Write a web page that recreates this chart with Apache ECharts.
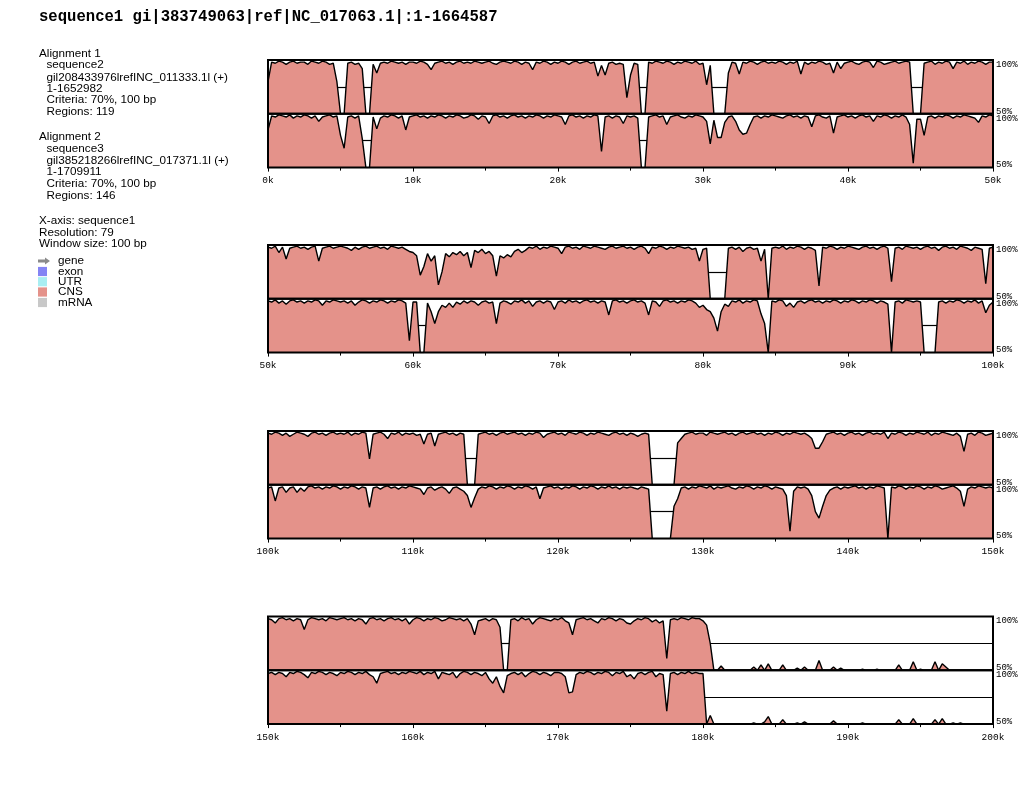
<!DOCTYPE html>
<html><head><meta charset="utf-8">
<script src="https://cdn.jsdelivr.net/npm/echarts@6/dist/echarts.min.js"></script>
<style>html,body{margin:0;padding:0;background:#fff}#c{width:1024px;height:793px}</style>
</head><body><div id="c"></div>
<script>
// ---- data (percent identity, sampled every 0.25 kb of sequence1) ----
const STEP_K = 0.25;
const seq2 = [
80,98,97,99,98,96,98,99,97,98,98,96,99,98,97,99,98,96,97,80,
50,50,97,98,96,97,92,50,50,96,88,97,98,97,99,98,97,98,96,98,
98,97,99,98,96,91,97,98,99,97,98,96,98,99,97,98,97,99,98,97,
98,99,97,96,98,99,98,97,99,98,96,98,97,91,98,97,99,98,96,98,
97,99,98,96,98,99,97,98,99,97,98,85,95,86,97,98,96,97,96,65,
86,97,96,50,50,98,97,99,98,97,99,98,96,98,97,99,98,97,99,96,
97,77,95,50,50,50,50,88,98,97,87,98,97,99,98,96,98,99,97,98,
97,99,98,96,98,97,99,87,98,96,98,97,99,98,96,97,88,98,92,97,
98,99,97,96,98,99,98,93,99,98,96,97,98,99,97,98,99,98,50,50,
50,97,98,99,96,98,97,99,98,92,98,97,99,96,98,97,99,98,96,98,
98,97,99,93,98,87,97,98,99,97,98,96,98,99,85,97,98,99,97,98,
99,98,97,95,98,96,98,99,97,98,99,97,98,96,99,98,97,98,96,94,
93,90,72,80,92,85,90,63,75,92,89,93,91,94,90,93,79,95,93,96,
92,94,90,71,90,88,91,89,94,96,93,95,98,97,99,96,98,97,99,98,
97,92,98,99,97,98,96,99,98,97,99,98,97,96,98,99,97,98,99,97,
98,96,98,99,97,92,98,97,99,98,96,98,97,99,98,97,98,96,97,85,
96,97,50,50,50,50,50,97,98,96,98,94,97,98,96,97,85,96,50,97,
98,97,99,96,98,97,99,98,96,98,97,95,62,98,97,99,98,96,98,97,
99,98,97,96,98,99,97,98,96,98,99,97,66,97,98,96,99,98,97,98,
96,98,99,97,98,95,98,99,97,98,96,99,98,97,95,98,97,96,64,97,
98,97,99,98,96,98,95,97,99,98,97,95,98,99,97,98,96,98,99,97,
98,97,99,96,98,97,99,98,74,97,98,99,97,93,98,97,99,96,98,97,
98,96,97,88,97,98,86,97,98,99,97,98,96,98,97,50,50,50,97,98,
99,97,98,96,98,99,97,98,99,97,98,96,98,97,99,98,94,97,98,99,
97,98,96,99,98,97,99,98,96,98,97,99,98,97,96,98,99,97,98,96,
98,97,95,97,98,97,50,50,50,50,50,50,50,89,93,97,98,99,97,98,
98,96,99,98,97,98,99,97,98,96,98,99,97,98,99,97,98,96,98,97,
99,98,96,98,97,99,98,97,98,96,93,84,84,90,97,98,99,97,98,96,
98,99,97,98,96,98,99,97,98,97,99,93,98,97,99,98,96,98,97,99,
98,97,99,96,98,97,99,98,97,96,98,95,81,97,98,96,99,98,96,97,
98,97,94,98,99,97,98,96,98,97,88,97,99,98,97,98,96,99,98,97,
98,99,97,98,96,98,97,93,98,99,97,98,96,98,99,97,98,96,98,93,
97,99,98,96,98,97,99,98,96,97,99,98,97,98,96,98,93,83,96,97,
98,96,98,97,90,50,50,97,98,96,99,97,98,93,97,99,98,97,96,98,
97,99,96,94,83,97,98,99,97,98,96,94,98,97,99,98,96,98,97,94,
93,96,98,97,99,98,95,97,94,96,61,97,98,97,99,98,97,99,98,98,
96,92,75,50,50,54,50,50,50,50,50,50,50,50,53,50,55,50,56,50,
50,50,55,50,50,50,52,50,53,50,50,50,59,50,50,50,53,50,52,50,
50,50,50,50,51,50,50,50,51,50,50,50,50,50,55,50,50,50,58,50,
51,50,50,50,58,50,56,53,50,50,50,50,50,50,50,50,50,50,50,50,
50];
const seq3 = [
85,98,97,99,98,97,99,96,98,97,99,98,96,98,93,97,98,99,97,98,
80,68,97,98,96,98,77,50,50,97,86,96,98,97,99,98,96,98,85,97,
98,99,97,98,96,98,97,99,98,96,98,97,99,98,96,97,99,98,95,98,
97,91,98,99,97,98,96,98,99,97,98,96,98,97,99,98,96,98,97,99,
98,97,90,98,99,97,98,96,98,97,99,98,65,97,98,96,98,97,91,98,
97,98,96,50,50,97,98,99,97,98,90,97,98,99,97,96,98,97,99,98,
97,93,72,94,78,78,92,97,98,93,85,81,82,90,97,98,96,98,97,99,
98,97,96,98,99,97,98,96,98,97,88,98,99,97,96,98,82,97,98,99,
97,98,96,98,99,97,98,93,98,97,99,98,96,98,97,99,97,90,54,95,
95,80,97,98,96,98,97,99,98,96,98,97,99,98,97,96,92,98,97,99,
98,97,99,96,98,95,98,99,97,98,96,98,97,99,98,94,98,97,99,98,
97,98,96,98,94,97,99,98,96,98,97,99,98,96,98,97,99,98,96,61,
97,97,50,50,96,88,77,88,94,92,96,92,97,95,98,96,98,97,94,97,
98,96,97,77,96,98,97,95,98,97,99,96,98,93,97,98,96,98,97,90,
97,98,96,99,97,98,96,98,99,97,98,96,98,97,85,98,99,97,98,96,
98,99,97,98,96,85,98,97,93,98,99,97,98,96,98,97,99,98,96,92,
94,90,88,82,70,88,95,93,98,97,99,96,98,97,99,98,86,77,50,98,
97,99,98,93,96,92,97,98,96,98,99,97,98,96,98,97,99,98,96,98,
97,99,98,96,98,97,99,98,96,98,97,95,50,97,98,96,99,98,97,98,
97,50,50,50,50,97,98,96,98,97,99,98,96,98,97,99,96,98,87,94,
97,98,85,97,98,93,97,98,93,97,94,98,99,97,98,96,98,97,99,98,
96,98,97,99,98,96,98,97,79,97,98,96,98,99,97,98,96,98,97,99,
98,97,96,91,97,98,95,97,98,96,92,97,98,96,94,90,79,88,96,98,
97,99,98,96,98,97,99,98,96,98,97,99,98,96,98,87,97,98,99,97,
98,96,98,97,99,98,96,98,97,99,98,96,98,97,99,97,98,96,98,97,
98,97,96,98,97,96,50,50,50,50,50,50,80,87,97,98,96,98,97,99,
98,97,99,96,98,97,98,99,97,96,98,97,99,98,96,98,97,99,98,96,
98,97,96,90,57,94,98,97,98,96,90,75,69,80,90,95,97,98,96,98,
97,98,99,97,98,96,98,97,99,98,97,50,98,97,99,98,96,98,97,99,
98,96,98,97,99,98,96,97,98,99,97,94,80,96,98,97,99,98,97,98,
97,98,96,98,97,94,98,97,99,98,96,93,98,97,99,98,96,98,97,95,
98,97,99,98,96,98,97,99,96,94,88,97,98,99,97,98,96,98,97,99,
98,97,99,96,98,97,99,92,98,97,96,98,93,97,99,98,96,98,97,95,
98,92,88,94,85,79,95,97,98,96,98,94,97,99,98,96,98,97,95,98,
98,97,94,79,80,96,98,97,99,98,96,98,97,99,98,95,98,97,99,94,
96,92,97,98,96,98,99,94,97,96,62,97,98,96,98,97,99,97,98,97,
97,50,58,50,50,50,50,50,50,50,50,50,50,50,51,50,50,52,57,50,
50,50,54,50,50,50,51,50,52,50,50,50,50,50,50,50,53,50,50,50,
50,50,50,50,51,50,50,50,50,50,50,50,50,50,54,50,50,50,55,50,
50,50,50,50,54,50,55,50,50,51,50,51,50,50,50,50,50,50,50,50,
50];
// unaligned stretches (kb) of each sequence
const gaps2 = [[5.0,5.25],[6.75,7.0],[25.75,26.0],[30.75,31.5],[44.5,45.0],[80.5,81.5],[113.75,114.25],[126.5,128.0],[166.25,166.5],[180.75,200]];
const gaps3 = [[6.75,7.0],[25.75,26.0],[60.5,60.75],[95.25,96.0],[126.5,127.75],[180.25,200]];
const rowStartsK = [0, 50, 100, 150];
const rowSpanK = 50;
const titleText = 'sequence1 gi|383749063|ref|NC_017063.1|:1-1664587';
const infoLines = [
  ['Alignment 1',0],['sequence2',1],['gil208433976lrefINC_011333.1l (+)',1],['1-1652982',1],['Criteria: 70%, 100 bp',1],['Regions: 119',1],
  ['Alignment 2',0],['sequence3',1],['gil385218266lrefINC_017371.1l (+)',1],['1-1709911',1],['Criteria: 70%, 100 bp',1],['Regions: 146',1],
  ['X-axis: sequence1',0],['Resolution: 79',0],['Window size: 100 bp',0]
];
const legendNames = ['gene','exon','UTR','CNS','mRNA'];

// ---- layout / style ----
const FILL = '#E4928A';
const legendColors = ['#8a8a8a','#8484f4','#a8eef2',FILL,'#c8c8c8'];
const infoY = [53.3,65,77.3,88.5,100,111.7,136.7,148.3,160.5,171.8,183.3,195.5,220.7,232.3,244];
const legendY = [261,271.5,281.7,292,302.5];
const rowTops = [60, 245, 431, 616.5];
const TRACK_H = 53.8, PLOT_L = 268, PLOT_W = 725;

function gapLeft(vals, a){
  let i = Math.round(a/STEP_K);
  let j = i-1;
  while (j > 0 && vals[j] <= 75) j--;
  const v0 = vals[j], v1 = vals[j+1];
  return j*STEP_K + (v0-75)/(v0-v1)*STEP_K;
}
function gapRight(vals, b){
  let i = Math.round(b/STEP_K);
  if (i+1 >= vals.length) return i*STEP_K;
  let j = i+1;
  while (j < vals.length-1 && vals[j] <= 75) j++;
  const v0 = vals[j-1], v1 = vals[j];
  if (v1 <= 75) return j*STEP_K;
  return (j-1)*STEP_K + (75-v0)/(v1-v0)*STEP_K;
}

const grids=[], xAxes=[], yAxes=[], series=[], graphic=[];
const tracks = [{vals:seq2,gaps:gaps2},{vals:seq3,gaps:gaps3}];
rowStartsK.forEach((x0, r) => {
  tracks.forEach((tr, t) => {
    const g = grids.length;
    const isBottom = t === 1;
    const top = rowTops[r] + t*TRACK_H;
    grids.push({left:PLOT_L, width:PLOT_W, top:top, height:TRACK_H, show:false});
    xAxes.push({type:'value', gridIndex:g, min:x0, max:x0+rowSpanK, interval:10,
      axisLine:{show:false}, splitLine:{show:false},
      axisTick:{show:isBottom, length:4, lineStyle:{color:'#000', width:1}},
      minorTick:{show:isBottom, splitNumber:2, length:3, lineStyle:{color:'#000', width:1}},
      minorSplitLine:{show:false},
      axisLabel:{show:isBottom, formatter:v=>v+'k', fontFamily:'Liberation Mono', fontSize:9.5, color:'#000', margin:8}});
    yAxes.push({type:'value', gridIndex:g, min:50, max:100, interval:50, position:'right',
      axisLine:{show:false}, axisTick:{show:false}, splitLine:{show:false},
      axisLabel:{margin:3, color:'#000', fontFamily:'Liberation Mono', fontSize:9,
        formatter:v => v===100 ? '{hi|100%}' : '{lo|50%}',
        rich:{hi:{padding:[9,0,0,0], fontFamily:'Liberation Mono', fontSize:9, color:'#000'},
              lo:{padding:[0,0,5,0], fontFamily:'Liberation Mono', fontSize:9, color:'#000'}}}});
    const data = [];
    tr.vals.forEach((v,i) => { const x = i*STEP_K; if (x >= x0-1e-9 && x <= x0+rowSpanK+1e-9) data.push([x, v]); });
    const bars = tr.gaps.filter(([a]) => a >= x0 && a < x0+rowSpanK)
      .map(([a,b]) => [{coord:[gapLeft(tr.vals,a),75]},{coord:[gapRight(tr.vals,b),75]}]);
    series.push({type:'line', xAxisIndex:g, yAxisIndex:g, data:data, showSymbol:false, symbol:'none',
      lineStyle:{color:'#000', width:1.4}, areaStyle:{color:FILL, opacity:1, origin:'start'},
      animation:false, silent:true,
      markLine:{symbol:['none','none'], silent:true, animation:false, label:{show:false},
        lineStyle:{color:'#000', width:1.2, type:'solid'}, emphasis:{disabled:true}, data:bars}});
    graphic.push({type:'rect', z:100, silent:true, shape:{x:PLOT_L, y:top, width:PLOT_W, height:TRACK_H},
      style:{fill:'none', stroke:'#000', lineWidth:2}});
  });
});

graphic.push({type:'text', x:39, y:17.3, style:{text:titleText, font:'bold 15.6px "Liberation Mono"', fill:'#000', verticalAlign:'middle', align:'left'}});
infoLines.forEach(([txt, ind], i) => {
  graphic.push({type:'text', x: ind ? 46.5 : 39, y: infoY[i], style:{text:txt, font:'11.7px "Liberation Sans"', fill:'#000', verticalAlign:'middle', align:'left'}});
});
legendNames.forEach((name, i) => {
  const y = legendY[i];
  if (name === 'gene') {
    graphic.push({type:'polygon', shape:{points:[[38,y-1.6],[45,y-1.6],[45,y-3.6],[50,y],[45,y+3.6],[45,y+1.6],[38,y+1.6]]}, style:{fill:legendColors[i]}});
  } else {
    graphic.push({type:'rect', shape:{x:38, y:y-4.6, width:9, height:9.2}, style:{fill:legendColors[i]}});
  }
  graphic.push({type:'text', x:58, y:y, style:{text:name, font:'11.7px "Liberation Sans"', fill:'#000', verticalAlign:'middle', align:'left'}});
});

const chart = echarts.init(document.getElementById('c'), null, {renderer:'canvas', width:1024, height:793});
chart.setOption({backgroundColor:'#fff', animation:false, grid:grids, xAxis:xAxes, yAxis:yAxes, series:series, graphic:graphic});
</script></body></html>
